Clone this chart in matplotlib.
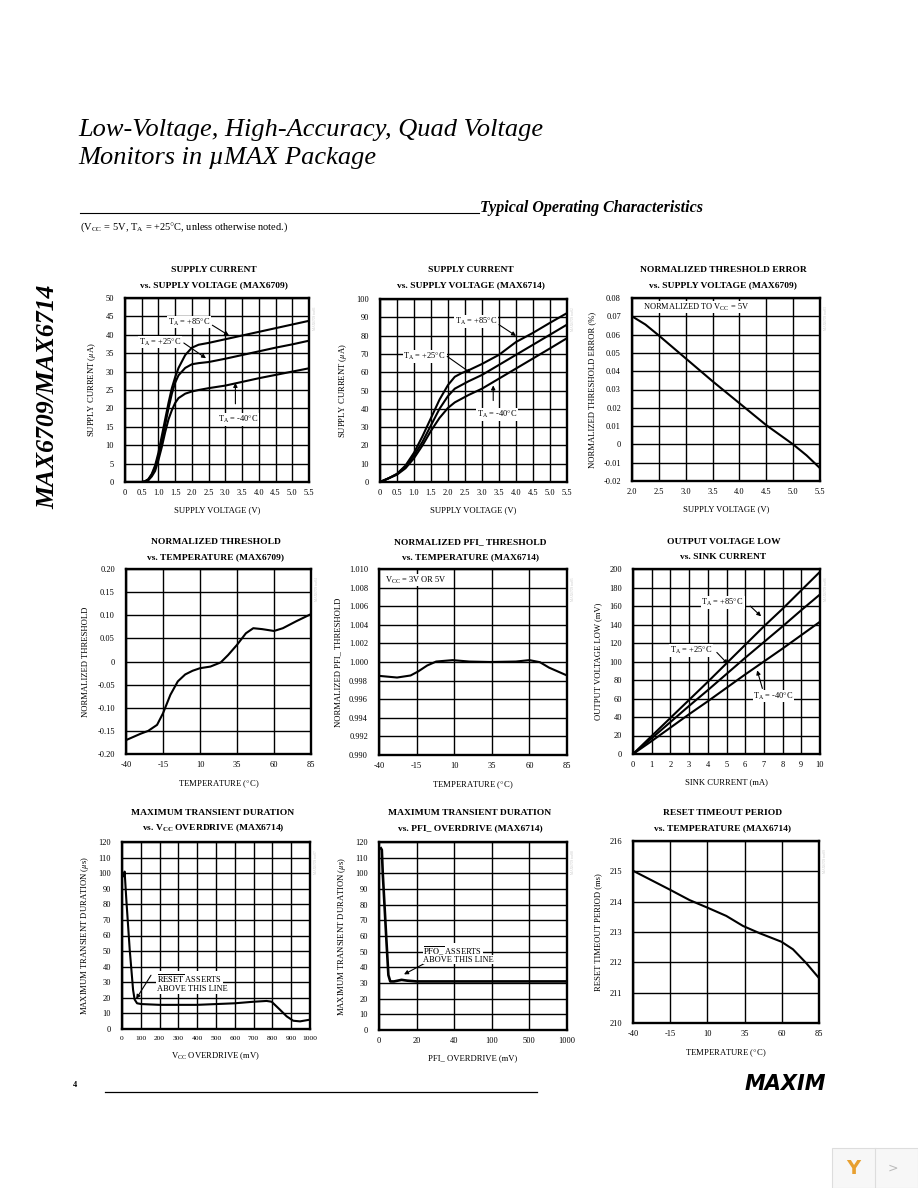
import numpy as np
import matplotlib
matplotlib.use('Agg')
import matplotlib.pyplot as plt
from matplotlib.lines import Line2D
from matplotlib.patches import Rectangle

plt.rcParams['font.family'] = ['Liberation Serif', 'DejaVu Serif']
plt.rcParams['mathtext.fontset'] = 'stix'

W, H = 918, 1188

# ---- data ----
# supply current vs supply voltage (MAX6709)
v_6709 = [0, 0.5, 0.6, 0.7, 0.8, 0.9, 1.0, 1.1, 1.2, 1.3, 1.4, 1.5, 1.6, 1.8,
          2.0, 2.2, 2.5, 3.0, 3.5, 4.0, 4.5, 5.0, 5.5]
i_6709_85 = [0, 0, 0.2, 0.8, 2.2, 4.5, 8, 12.5, 17, 21.5, 25.5, 28.5, 31, 34.5,
             36.5, 37.3, 37.8, 38.8, 39.8, 40.8, 41.8, 42.8, 43.8]
i_6709_25 = [0, 0, 0.2, 0.7, 2, 4, 7, 11, 15.5, 20, 24, 27, 29, 31,
             32, 32.3, 32.6, 33.5, 34.5, 35.5, 36.5, 37.4, 38.4]
i_6709_m40 = [0, 0, 0.1, 0.5, 1.5, 3, 6, 9.5, 13.5, 17, 19.5, 21.5, 22.8, 24,
              24.6, 25, 25.5, 26.2, 27.2, 28.2, 29.1, 30, 30.9]

# supply current vs supply voltage (MAX6714)
v_6714 = [0, 0.25, 0.5, 0.75, 1.0, 1.25, 1.5, 1.75, 2.0, 2.2, 2.4, 2.6, 3.0,
          3.5, 4.0, 4.5, 5.0, 5.5]
i_6714_85 = [0, 2, 4.5, 9, 16, 25, 35, 45, 53, 57.5, 59.5, 61, 64.5, 69.5,
             76.5, 81.5, 87, 92.3]
i_6714_25 = [0, 2, 4.3, 8.5, 14.5, 22, 31, 40, 47, 51, 53, 55, 58.5, 64,
             69.5, 75, 80.5, 86]
i_6714_m40 = [0, 2, 4, 7.5, 13, 20, 28, 35, 40.5, 43.5, 45.5, 47.5, 51, 56.5,
              62, 67.5, 73, 78.6]

# normalized threshold error vs supply voltage
v_err = [2.0, 2.25, 2.5, 3.0, 3.5, 4.0, 4.5, 5.0, 5.25, 5.5]
err_pct = [0.070, 0.0655, 0.0595, 0.047, 0.0345, 0.0225, 0.0105, 0.0, -0.006, -0.013]

# normalized threshold vs temperature (MAX6709)
t_thr = [-40, -30, -25, -19, -15, -10, -5, 0, 5, 10, 17, 24, 29, 35, 41, 46,
         52, 60, 66, 75, 85]
thr_6709 = [-0.170, -0.156, -0.150, -0.137, -0.112, -0.072, -0.043, -0.028,
            -0.020, -0.0145, -0.011, -0.002, 0.014, 0.036, 0.061, 0.072,
            0.070, 0.066, 0.072, 0.087, 0.1025]

# normalized PFI_ threshold vs temperature (MAX6714)
t_pfi = [-40, -28, -19, -14, -8, -2, 9, 20, 34, 51, 60, 67, 73, 85]
thr_pfi = [0.99851, 0.99833, 0.99855, 0.99898, 0.99962, 1.00005, 1.0002,
           1.00005, 1.0000, 1.00005, 1.0002, 0.99998, 0.9994, 0.99855]

# output voltage low vs sink current
i_sink = [0, 1, 2, 3, 4, 5, 6, 7, 8, 9, 10]
vol_85 = [0, 19.5, 39, 58.5, 78, 98, 118, 138, 157, 177, 197]
vol_25 = [0, 17, 34.5, 52, 69, 86.5, 104, 121, 138, 155.5, 172.5]
vol_m40 = [0, 14, 28.5, 43, 57, 71.5, 86, 100, 114, 128.5, 143]

# max transient duration vs VCC overdrive
od_vcc = [10, 14, 23, 41, 59, 67, 80, 103, 200, 300, 400, 500, 600, 700, 769,
          796, 840, 876, 911, 947, 1000]
dur_vcc = [98, 101, 83, 51, 25, 19, 16.5, 16, 15.5, 15.5, 15.5, 16, 16.5,
           17.5, 18, 17.5, 12.4, 8.1, 5.3, 4.9, 6]

# max transient duration vs PFI_ overdrive
od_pfi = [1, 1.5, 2, 3, 4, 5, 6, 8, 10, 12, 15, 20, 40, 100, 500, 1000]
dur_pfi = [116, 115, 100, 78, 56, 35, 31, 31, 31.5, 32, 31.5, 31, 31, 31, 31, 31]

# reset timeout period vs temperature
t_rst = [-40, -15.4, -1.9, 9.7, 22.7, 33.9, 45.1, 59.7, 67.5, 76.5, 85]
t_reset = [215.02, 214.4, 214.05, 213.81, 213.53, 213.2, 212.96, 212.68,
           212.43, 211.97, 211.48]

temp_ticks = [-40, -15, 10, 35, 60, 85]
pfi_ticks = [0, 20, 40, 100, 500, 1000]


def box(l, t, r, b):
    return [l / W, 1 - b / H, (r - l) / W, (b - t) / H]


def style_axes(ax, xlim, ylim, xticks, yticks, xlabels, ylabels, xlabel, ylabel):
    ax.set_xlim(*xlim)
    ax.set_ylim(*ylim)
    ax.set_xticks(xticks)
    ax.set_yticks(yticks)
    ax.set_xticklabels(xlabels, fontsize=6)
    ax.set_yticklabels(ylabels, fontsize=6)
    ax.tick_params(length=0, pad=5)
    ax.tick_params(axis='y', pad=8)
    ax.grid(True, color='black', linewidth=1.0)
    ax.set_axisbelow(True)
    for s in ax.spines.values():
        s.set_linewidth(1.7)
    ax.set_xlabel(xlabel, fontsize=6.2, labelpad=7)
    ax.set_ylabel(ylabel, fontsize=6.2, labelpad=5)


def titles(ax_box, y, line1, line2):
    cx = (ax_box[0] + ax_box[2]) / 2 - 3
    fig.text(cx / W, 1 - y / H, line1, ha='center', va='center',
             fontsize=6.8, fontweight='bold')
    fig.text(cx / W, 1 - (y + 15) / H, line2, ha='center', va='center',
             fontsize=6.8, fontweight='bold')


def label(ax, x, y, s, **kw):
    ax.text(x, y, s, fontsize=6, va='center', ha='left',
            bbox=dict(facecolor='white', edgecolor='none', pad=0.5), zorder=4, **kw)


def arrow(ax, tail, tip, **kw):
    ax.annotate('', xy=tip, xytext=tail,
                arrowprops=dict(arrowstyle='-|>', color='black', lw=0.8,
                                mutation_scale=6), zorder=5, **kw)


fig = plt.figure(figsize=(W / 100, H / 100), dpi=100)

# ---- page header ----
fig.text(78 / W, 1 - 130 / H, 'Low-Voltage, High-Accuracy, Quad Voltage',
         fontsize=19, style='italic', va='center')
fig.text(78 / W, 1 - 158 / H, 'Monitors in \u00b5MAX Package',
         fontsize=19, style='italic', va='center')
fig.text(703 / W, 1 - 208 / H, 'Typical Operating Characteristics',
         fontsize=11.5, style='italic', fontweight='bold', ha='right', va='center')
fig.add_artist(Line2D([80 / W, 479 / W], [1 - 213 / H, 1 - 213 / H],
                      color='black', lw=0.8, transform=fig.transFigure))
fig.text(80 / W, 1 - 227 / H,
         r'(V$_\mathregular{CC}$ = 5V, T$_\mathregular{A}$ = +25$\degree$C, unless otherwise noted.)',
         fontsize=7.5, va='center')
fig.text(48 / W, 1 - 397 / H, 'MAX6709/MAX6714', rotation=90, fontsize=18.5,
         style='italic', fontweight='bold', ha='center', va='center')

# ---- row 1 ----
b1 = (125, 298, 309, 482)
ax1 = fig.add_axes(box(*b1))
ax1.plot(v_6709, i_6709_85, color='black', lw=1.5)
ax1.plot(v_6709, i_6709_25, color='black', lw=1.5)
ax1.plot(v_6709, i_6709_m40, color='black', lw=1.5)
xt = np.arange(0, 5.51, 0.5)
style_axes(ax1, (0, 5.5), (0, 50), xt, np.arange(0, 51, 5),
           [f'{v:.1f}' if v else '0' for v in xt], [str(v) for v in range(0, 51, 5)],
           'SUPPLY VOLTAGE (V)', r'SUPPLY CURRENT ($\mu$A)')
label(ax1, 1.28, 43.5, r'T$_\mathregular{A}$ = +85$\degree$C')
arrow(ax1, (2.54, 43.0), (3.18, 39.4))
label(ax1, 0.42, 38.0, r'T$_\mathregular{A}$ = +25$\degree$C')
arrow(ax1, (1.69, 38.2), (2.49, 33.2))
label(ax1, 2.79, 17.0, r'T$_\mathregular{A}$ = -40$\degree$C')
arrow(ax1, (3.3, 20.5), (3.3, 27.7))
titles(b1, 270, 'SUPPLY CURRENT', 'vs. SUPPLY VOLTAGE (MAX6709)')

b2 = (380, 299, 567, 482)
ax2 = fig.add_axes(box(*b2))
ax2.plot(v_6714, i_6714_85, color='black', lw=1.5)
ax2.plot(v_6714, i_6714_25, color='black', lw=1.5)
ax2.plot(v_6714, i_6714_m40, color='black', lw=1.5)
style_axes(ax2, (0, 5.5), (0, 100), xt, np.arange(0, 101, 10),
           [f'{v:.1f}' if v else '0' for v in xt], [str(v) for v in range(0, 101, 10)],
           'SUPPLY VOLTAGE (V)', r'SUPPLY CURRENT ($\mu$A)')
label(ax2, 2.2, 87.8, r'T$_\mathregular{A}$ = +85$\degree$C')
arrow(ax2, (3.43, 86.8), (4.07, 79))
label(ax2, 0.69, 68.6, r'T$_\mathregular{A}$ = +25$\degree$C')
arrow(ax2, (1.91, 69.5), (2.75, 58.5))
label(ax2, 2.84, 37.0, r'T$_\mathregular{A}$ = -40$\degree$C')
arrow(ax2, (3.33, 43), (3.33, 54.3))
titles(b2, 270, 'SUPPLY CURRENT', 'vs. SUPPLY VOLTAGE (MAX6714)')

b3 = (632, 298, 820, 481)
ax3 = fig.add_axes(box(*b3))
ax3.plot(v_err, err_pct, color='black', lw=1.5)
xt3 = np.arange(2.0, 5.51, 0.5)
yt3 = np.arange(-0.02, 0.0801, 0.01)
style_axes(ax3, (2.0, 5.5), (-0.02, 0.08), xt3, yt3,
           [f'{v:.1f}' for v in xt3],
           ['0' if abs(v) < 1e-9 else f'{v:.2f}' for v in yt3],
           'SUPPLY VOLTAGE (V)', 'NORMALIZED THRESHOLD ERROR (%)')
label(ax3, 2.2, 0.0751, r'NORMALIZED TO V$_\mathregular{CC}$ = 5V')
titles(b3, 270, 'NORMALIZED THRESHOLD ERROR', 'vs. SUPPLY VOLTAGE (MAX6709)')

# ---- row 2 ----
b4 = (126, 569, 311, 754)
ax4 = fig.add_axes(box(*b4))
ax4.plot(t_thr, thr_6709, color='black', lw=1.5)
yt4 = np.arange(-0.20, 0.201, 0.05)
style_axes(ax4, (-40, 85), (-0.20, 0.20), temp_ticks, yt4,
           [str(v) for v in temp_ticks],
           ['0' if abs(v) < 1e-9 else f'{v:.2f}' for v in yt4],
           r'TEMPERATURE ($\degree$C)', 'NORMALIZED THRESHOLD')
titles(b4, 542, 'NORMALIZED THRESHOLD', 'vs. TEMPERATURE (MAX6709)')

b5 = (379, 569, 567, 755)
ax5 = fig.add_axes(box(*b5))
ax5.plot(t_pfi, thr_pfi, color='black', lw=1.5)
yt5 = np.arange(0.990, 1.0101, 0.002)
style_axes(ax5, (-40, 85), (0.990, 1.010), temp_ticks, yt5,
           [str(v) for v in temp_ticks], [f'{v:.3f}' for v in yt5],
           r'TEMPERATURE ($\degree$C)', 'NORMALIZED PFI_ THRESHOLD')
label(ax5, -36, 1.0088, r'V$_\mathregular{CC}$ = 3V OR 5V')
titles(b5, 542, 'NORMALIZED PFI_ THRESHOLD', 'vs. TEMPERATURE (MAX6714)')

b6 = (633, 569, 820, 754)
ax6 = fig.add_axes(box(*b6))
ax6.plot(i_sink, vol_85, color='black', lw=1.5)
ax6.plot(i_sink, vol_25, color='black', lw=1.5)
ax6.plot(i_sink, vol_m40, color='black', lw=1.5)
style_axes(ax6, (0, 10), (0, 200), range(0, 11), range(0, 201, 20),
           [str(v) for v in range(0, 11)], [str(v) for v in range(0, 201, 20)],
           'SINK CURRENT (mA)', 'OUTPUT VOLTAGE LOW (mV)')
label(ax6, 3.66, 163.8, r'T$_\mathregular{A}$ = +85$\degree$C')
arrow(ax6, (6.16, 162), (6.96, 146.8))
label(ax6, 1.96, 112, r'T$_\mathregular{A}$ = +25$\degree$C')
arrow(ax6, (4.38, 112), (5.18, 95))
label(ax6, 6.43, 62.6, r'T$_\mathregular{A}$ = -40$\degree$C')
arrow(ax6, (6.96, 68), (6.6, 93.3))
titles(b6, 542, 'OUTPUT VOLTAGE LOW', 'vs. SINK CURRENT')

# ---- row 3 ----
b7 = (122, 842, 310, 1029)
ax7 = fig.add_axes(box(*b7))
ax7.plot(od_vcc, dur_vcc, color='black', lw=1.5)
style_axes(ax7, (0, 1000), (0, 120), range(0, 1001, 100), range(0, 121, 10),
           [str(v) for v in range(0, 1001, 100)], [str(v) for v in range(0, 121, 10)],
           r'V$_\mathregular{CC}$ OVERDRIVE (mV)', r'MAXIMUM TRANSIENT DURATION ($\mu$s)')
ax7.tick_params(axis='x', labelsize=5.4)
ax7.text(186, 32.7, r'$\overline{\mathrm{RESET}}$ ASSERTS', fontsize=6, va='center',
         bbox=dict(facecolor='white', edgecolor='none', pad=0.5), zorder=4)
ax7.text(186, 25.7, 'ABOVE THIS LINE', fontsize=6, va='center',
         bbox=dict(facecolor='white', edgecolor='none', pad=0.5), zorder=4)
arrow(ax7, (162, 36), (67.5, 17.8))
titles(b7, 813, 'MAXIMUM TRANSIENT DURATION', r'vs. V$_\mathregular{CC}$ OVERDRIVE (MAX6714)')

b8 = (379, 842, 567, 1030)
ax8 = fig.add_axes(box(*b8))
seg = np.arange(len(pfi_ticks))
ax8.set_xscale('function', functions=(lambda x: np.interp(x, pfi_ticks, seg),
                                      lambda s: np.interp(s, seg, pfi_ticks)))
ax8.plot(od_pfi, dur_pfi, color='black', lw=1.9)
style_axes(ax8, (0, 1000), (0, 120), pfi_ticks, range(0, 121, 10),
           [str(v) for v in pfi_ticks], [str(v) for v in range(0, 121, 10)],
           'PFI_ OVERDRIVE (mV)', r'MAXIMUM TRANSIENT DURATION ($\mu$s)')
ax8.minorticks_off()
ax8.text(0.235, 0.421, r'$\overline{\mathrm{PFO\_}}$ ASSERTS', transform=ax8.transAxes,
         fontsize=6, va='center', bbox=dict(facecolor='white', edgecolor='none', pad=0.5),
         zorder=4)
ax8.text(0.235, 0.375, 'ABOVE THIS LINE', transform=ax8.transAxes, fontsize=6,
         va='center', bbox=dict(facecolor='white', edgecolor='none', pad=0.5), zorder=4)
ax8.annotate('', xy=(0.12, 0.289), xytext=(0.257, 0.362), xycoords='axes fraction',
             arrowprops=dict(arrowstyle='-|>', color='black', lw=0.8, mutation_scale=6))
titles(b8, 813, 'MAXIMUM TRANSIENT DURATION', 'vs. PFI_ OVERDRIVE (MAX6714)')

b9 = (633, 841, 819, 1023)
ax9 = fig.add_axes(box(*b9))
ax9.plot(t_rst, t_reset, color='black', lw=1.5)
style_axes(ax9, (-40, 85), (210, 216), temp_ticks, range(210, 217),
           [str(v) for v in temp_ticks], [str(v) for v in range(210, 217)],
           r'TEMPERATURE ($\degree$C)', 'RESET TIMEOUT PERIOD (ms)')
titles(b9, 813, 'RESET TIMEOUT PERIOD', 'vs. TEMPERATURE (MAX6714)')

# faint figure ids at the right of each plot
for i, b in enumerate([b1, b2, b3, b4, b5, b6, b7, b8, b9]):
    fig.text((b[2] + 6) / W, 1 - (b[1] + 20) / H, f'MAX6709 toc{i + 1:02d}',
             rotation=90, fontsize=2.5, color='#c8c8c8', ha='center', va='center')

# ---- footer ----
fig.text(73 / W, 1 - 1085 / H, '4', fontsize=6, fontweight='bold', va='center')
fig.add_artist(Line2D([105 / W, 537 / W], [1 - 1092 / H, 1 - 1092 / H],
                      color='black', lw=0.9, transform=fig.transFigure))
fig.text(826 / W, 1 - 1084 / H, 'MAXIM', fontsize=15, fontweight='heavy',
         style='italic', family='DejaVu Sans', ha='right', va='center')

# browser widget in the corner of the screenshot
fig.add_artist(Rectangle((832 / W, 0), 86 / W, 40 / H, transform=fig.transFigure,
                         facecolor='#f7f7f7', edgecolor='#dddddd', lw=0.8))
fig.add_artist(Line2D([875 / W, 875 / W], [0, 40 / H], color='#dddddd', lw=0.8,
                      transform=fig.transFigure))
fig.text(893 / W, 20 / H, '>', fontsize=9, color='#bbbbbb', ha='center', va='center',
         family='DejaVu Sans')
fig.text(853 / W, 20 / H, 'Y', fontsize=14, color='#e8a030', ha='center', va='center',
         family='DejaVu Sans', fontweight='bold')

fig.savefig('out.png', dpi=100)
